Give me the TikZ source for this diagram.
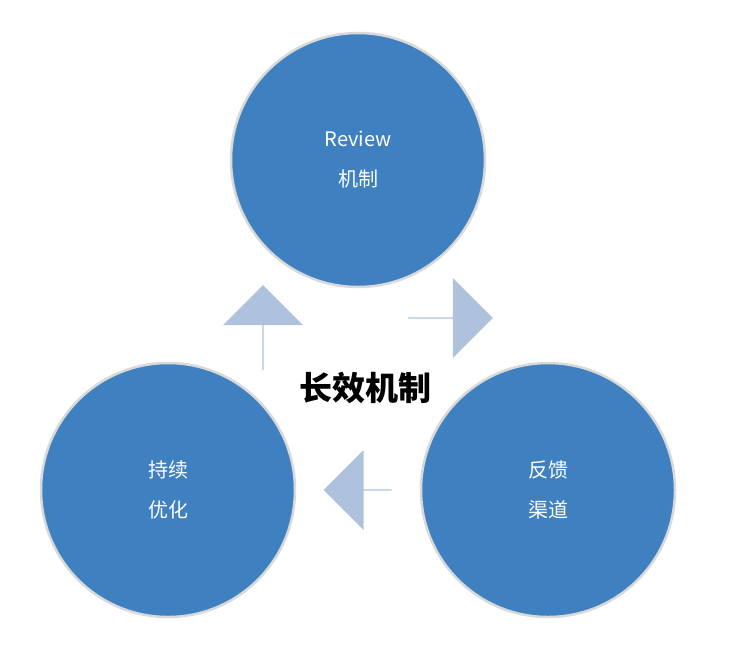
\documentclass[tikz,border=0pt]{standalone}
\usepackage{fontspec}
\setmainfont{Noto Sans CJK SC}
\usetikzlibrary{shapes.arrows}
\definecolor{cblue}{HTML}{3F81C0}
\definecolor{ablue}{HTML}{AEC2DE}
\tikzset{
 circ/.style={circle,fill=cblue,draw=black!15,line width=2.5pt,minimum size=254pt,inner sep=0pt,text=white,font=\fontsize{20}{40}\selectfont,align=center},
 barrow/.style={single arrow,fill=ablue,draw=none,minimum height=78pt,minimum width=80pt,single arrow head extend=13pt,single arrow head indent=0pt,inner sep=0pt}
}
\begin{document}
\begin{tikzpicture}[x=1pt,y=-1pt]
\useasboundingbox (0,0) rectangle (730,646);
\node[circ] (top) at (358,160) {Review\\机制};
\node[circ] (left) at (168,490) {持续\\优化};
\node[circ] (right) at (548,490) {反馈\\渠道};
\node[font=\bfseries\fontsize{33}{36}\selectfont] (mid) at (365,388) {长效机制};
\node[barrow,shape border rotate=45,minimum height=85pt] (a1) at (263,328) {};
\node[barrow,shape border rotate=-42,minimum height=85pt] (a2) at (450,318) {};
\node[barrow,shape border rotate=180,minimum height=68pt] (a3) at (358,490) {};
\end{tikzpicture}
\end{document}
